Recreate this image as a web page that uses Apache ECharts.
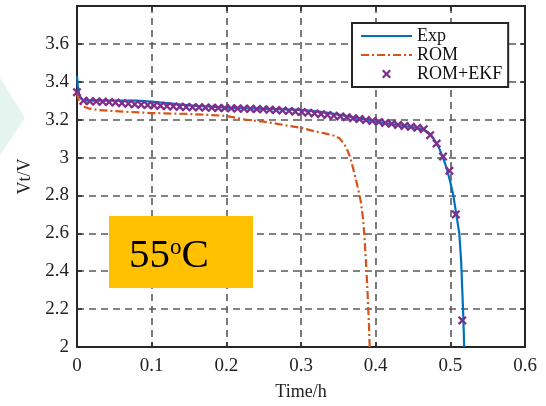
<!DOCTYPE html>
<html>
<head>
<meta charset="utf-8">
<script src="https://cdn.jsdelivr.net/npm/echarts@6/dist/echarts.min.js"></script>
<style>html,body{margin:0;padding:0;background:#fff;}#c{width:546px;height:406px;}</style>
</head>
<body>
<div id="c"></div>
<script>
// Exp (measured) curve
var expT = [0, 0.001, 0.003, 0.006, 0.01, 0.02, 0.05, 0.08, 0.1, 0.12, 0.15, 0.2, 0.25, 0.3, 0.33, 0.36, 0.4, 0.43, 0.45, 0.46, 0.47, 0.475, 0.48, 0.485, 0.49, 0.495, 0.5, 0.504, 0.508, 0.512, 0.5145, 0.516, 0.517, 0.518, 0.5185];
var expV = [3.43, 3.38, 3.33, 3.31, 3.30, 3.30, 3.30, 3.30, 3.295, 3.287, 3.275, 3.263, 3.257, 3.252, 3.24, 3.22, 3.19, 3.172, 3.16, 3.152, 3.135, 3.115, 3.085, 3.05, 3.00, 2.945, 2.87, 2.80, 2.70, 2.60, 2.45, 2.30, 2.20, 2.08, 2.0];
// ROM curve
var romT = [0, 0.003, 0.008, 0.015, 0.03, 0.05, 0.1, 0.15, 0.2, 0.225, 0.25, 0.28, 0.3, 0.32, 0.335, 0.345, 0.352, 0.358, 0.362, 0.366, 0.37, 0.375, 0.38, 0.383, 0.385, 0.387, 0.389, 0.391, 0.392];
var romV = [3.34, 3.29, 3.27, 3.26, 3.25, 3.245, 3.235, 3.23, 3.22, 3.20, 3.19, 3.17, 3.157, 3.137, 3.125, 3.115, 3.10, 3.07, 3.04, 3.00, 2.94, 2.86, 2.77, 2.68, 2.58, 2.45, 2.30, 2.12, 2.0];
// ROM+EKF markers
var ekfT = [0, 0.0086, 0.0172, 0.0258, 0.0344, 0.043, 0.0516, 0.0602, 0.0688, 0.0774, 0.086, 0.0946, 0.1032, 0.1118, 0.1204, 0.129, 0.1376, 0.1462, 0.1548, 0.1634, 0.172, 0.1806, 0.1892, 0.1978, 0.2064, 0.215, 0.2236, 0.2322, 0.2408, 0.2494, 0.258, 0.2666, 0.2752, 0.2838, 0.2924, 0.301, 0.3096, 0.3182, 0.3268, 0.3354, 0.344, 0.3526, 0.3612, 0.3698, 0.3784, 0.387, 0.3956, 0.4042, 0.4128, 0.4214, 0.43, 0.4386, 0.4472, 0.4558, 0.4644, 0.473, 0.4816, 0.4902, 0.4988, 0.5074, 0.516];
var ekfV = [3.345, 3.30, 3.297, 3.296, 3.295, 3.293, 3.29, 3.287, 3.284, 3.281, 3.279, 3.277, 3.275, 3.273, 3.271, 3.27, 3.268, 3.267, 3.266, 3.265, 3.264, 3.263, 3.262, 3.261, 3.26, 3.259, 3.258, 3.257, 3.256, 3.255, 3.253, 3.251, 3.249, 3.246, 3.243, 3.24, 3.237, 3.233, 3.229, 3.225, 3.221, 3.217, 3.213, 3.208, 3.203, 3.198, 3.193, 3.188, 3.183, 3.178, 3.172, 3.167, 3.162, 3.157, 3.15, 3.118, 3.074, 3.005, 2.93, 2.70, 2.14];

var seriesNames = ['Exp', 'ROM', 'ROM+EKF'];
var xTicks = [0, 0.1, 0.2, 0.3, 0.4, 0.5, 0.6];
var yTicks = [2, 2.2, 2.4, 2.6, 2.8, 3, 3.2, 3.4, 3.6];
var tempLabel = '55';

function pairs(a, b) { return a.map(function (t, i) { return [t, b[i]]; }); }

var FONT = '"Liberation Serif", "Times New Roman", serif';
var crossPath = 'path://M0,1.8 L1.8,0 L5,3.2 L8.2,0 L10,1.8 L6.8,5 L10,8.2 L8.2,10 L5,6.8 L1.8,10 L0,8.2 L3.2,5 Z';
var solidIcon = 'path://M0,0 H51 V2.2 H0 Z';
var dashDotIcon = 'path://M0,0 H8 V2.2 H0 Z M11,0 H13 V2.2 H11 Z M16,0 H24 V2.2 H16 Z M27,0 H29 V2.2 H27 Z M32,0 H40 V2.2 H32 Z M43,0 H45 V2.2 H43 Z M48,0 H51 V2.2 H48 Z';

var chart = echarts.init(document.getElementById('c'), null, { renderer: 'canvas' });
var axisLineStyle = { color: '#262626', width: 2 };
var splitStyle = { color: '#5a5a5a', width: 1.6, type: [7, 5] };
var tickStyle = { show: true, inside: true, length: 5, lineStyle: { color: '#262626', width: 1.5 } };

chart.setOption({
  backgroundColor: '#ffffff',
  animation: false,
  grid: { left: 77, top: 6, right: 21, bottom: 52.5, containLabel: false },
  xAxis: [{
    type: 'value', min: xTicks[0], max: xTicks[xTicks.length - 1], interval: 0.1,
    name: 'Time/h', nameLocation: 'middle', nameGap: 36,
    nameTextStyle: { fontFamily: FONT, fontSize: 18, color: '#222' },
    axisLine: { show: true, onZero: false, lineStyle: axisLineStyle },
    axisTick: tickStyle,
    axisLabel: { fontFamily: FONT, fontSize: 19, color: '#222', margin: 10 },
    splitLine: { show: true, lineStyle: splitStyle }
  }, {
    type: 'value', min: 0, max: 0.6, interval: 0.1, position: 'top',
    axisLine: { show: true, onZero: false, lineStyle: axisLineStyle },
    axisTick: tickStyle,
    axisLabel: { show: false }, splitLine: { show: false }
  }],
  yAxis: [{
    type: 'value', min: 2, max: 3.8, interval: 0.2,
    name: 'Vt/V', nameLocation: 'middle', nameGap: 37, nameRotate: 90,
    nameTextStyle: { fontFamily: FONT, fontSize: 18, color: '#222' },
    axisLine: { show: true, onZero: false, lineStyle: axisLineStyle },
    axisTick: tickStyle,
    axisLabel: {
      fontFamily: FONT, fontSize: 19, color: '#222', margin: 8,
      formatter: function (v) {
        for (var i = 0; i < yTicks.length; i++) { if (Math.abs(yTicks[i] - v) < 1e-6) return String(yTicks[i]); }
        return '';
      }
    },
    splitLine: { show: true, lineStyle: splitStyle }
  }, {
    type: 'value', min: 2, max: 3.8, interval: 0.2, position: 'right',
    axisLine: { show: true, onZero: false, lineStyle: axisLineStyle },
    axisTick: tickStyle,
    axisLabel: { show: false }, splitLine: { show: false }
  }],
  legend: {
    orient: 'vertical', left: 352, top: 23,
    padding: [4, 6, 4, 9], itemGap: 1, itemWidth: 51, itemHeight: 9,
    backgroundColor: '#fff', borderColor: '#262626', borderWidth: 2, borderRadius: 0,
    textStyle: { fontFamily: FONT, fontSize: 18, color: '#111', lineHeight: 16, padding: [0, 0, 0, 0] },
    data: [
      { name: seriesNames[0], icon: solidIcon, itemStyle: { color: '#0072BD' } },
      { name: seriesNames[1], icon: dashDotIcon, itemStyle: { color: '#D95319' } },
      { name: seriesNames[2], icon: crossPath, itemStyle: { color: '#7E2F8E' } }
    ]
  },
  series: [{
    name: seriesNames[0], type: 'line', data: pairs(expT, expV), symbol: 'none',
    lineStyle: { color: '#0072BD', width: 2.2 }, itemStyle: { color: '#0072BD' }, z: 3
  }, {
    name: seriesNames[1], type: 'line', data: pairs(romT, romV), symbol: 'none',
    lineStyle: { color: '#D95319', width: 2.2, type: [8, 3, 2, 3] }, itemStyle: { color: '#D95319' }, z: 2
  }, {
    name: seriesNames[2], type: 'scatter', data: pairs(ekfT, ekfV), symbol: crossPath, symbolSize: 9,
    itemStyle: { color: '#7E2F8E', opacity: 1 }, z: 4
  }],
  graphic: [{
    type: 'polygon', z: -10, silent: true,
    shape: { points: [[0, 78], [25, 118], [0, 155]] },
    style: { fill: '#e5f4ee' }
  }, {
    type: 'rect', z: 100, shape: { x: 109, y: 216, width: 144, height: 72 },
    style: { fill: '#FFC000' }
  }, {
    type: 'text', z: 101, x: 129, y: 256,
    style: {
      text: '{a|' + tempLabel + '}{b|o}{a|C}',
      verticalAlign: 'middle', align: 'left',
      rich: {
        a: { fontFamily: FONT, fontSize: 41, lineHeight: 40, fill: '#000' },
        b: { fontFamily: FONT, fontSize: 23, lineHeight: 24, verticalAlign: 'top', fill: '#000' }
      }
    }
  }]
});
</script>
</body>
</html>
